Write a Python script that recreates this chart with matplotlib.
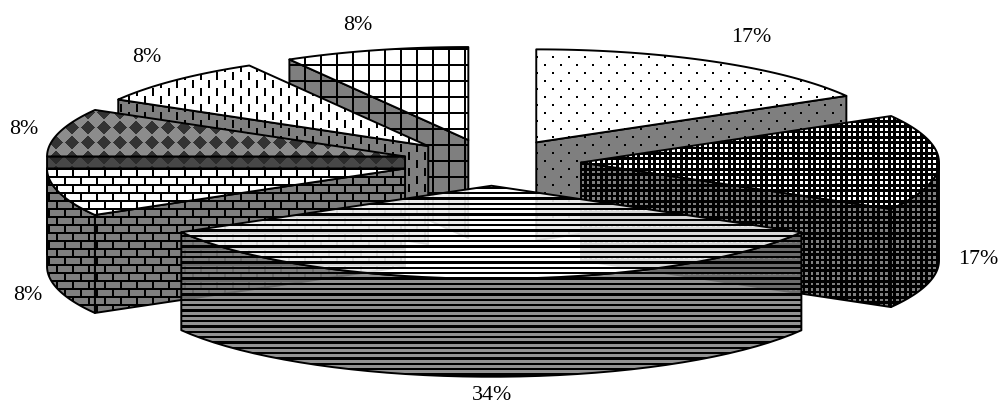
import numpy as np
import matplotlib
matplotlib.use('Agg')
import matplotlib.pyplot as plt
from matplotlib.patches import Polygon

# Exploded 3D pie with bitmap-like pattern fills

# Data (clockwise from 12 o'clock)
shares = [16.67, 16.67, 33.33, 8.33, 8.33, 8.33, 8.33]
labels = ['17%', '17%', '34%', '8%', '8%', '8%', '8%']
fills = ['dots', 'dense', 'lines', 'bricks', 'diamonds', 'dashes', 'grid']

# Layout (pixels)
W, H = 1000, 405
CX, CY = 491.5, 162.5
RX, RY = 358.0, 93.0
DEPTH = 98.0
EXPLODE = 0.25
label_xy = [(751, 38), (978, 260), (492, 396), (28, 296), (24, 130), (147, 58), (358, 26)]
draw_order = [0, 1, 6, 5, 4, 3, 2]

WHITE = (1, 1, 1)
GRAY = (0.5, 0.5, 0.5)
BLACK = (0, 0, 0)

# top colours and wall colours: (background, pattern)
top_cols = {'diamonds': ((0.55, 0.55, 0.55), (0.2, 0.2, 0.2))}
wall_cols = {'diamonds': ((0.28, 0.28, 0.28), (0.17, 0.17, 0.17))}

X, Y = np.meshgrid(np.arange(W) + 0.5, np.arange(H) + 0.5)


def pattern_mask(kind):
    """True where the pattern ink goes"""
    if kind == 'dots':
        row = np.floor(Y / 8) % 2
        return ((X + row * 8) % 16 < 2) & (Y % 8 < 2)
    if kind == 'dense':
        p = 16 / 3
        return ~((X % p < 2.6) & (Y % p < 2.6))
    if kind == 'lines':
        return Y % (16 / 3) < 2.3
    if kind == 'bricks':
        row = np.floor(Y / 8) % 2
        return (Y % 8 < 1.6) | ((X + row * 8) % 16 < 1.6)
    if kind == 'diamonds':
        dx = np.abs((X % 16) - 8)
        dy = np.abs((Y % 15) - 7.5)
        return dx + dy < 7.5
    if kind == 'dashes':
        col = np.floor(X / 8) % 2
        return (X % 8 < 2) & ((Y + col * 8) % 16 < 8)
    if kind == 'grid':
        return (X % 16 < 1.6) | (Y % 16 < 1.6)
    raise ValueError(kind)


def pattern_image(kind, bg, fg, gap_alpha=1.0):
    mask = pattern_mask(kind)
    img = np.zeros((H, W, 4))
    for i in range(3):
        img[..., i] = np.where(mask, fg[i], bg[i])
    img[..., 3] = np.where(mask, 1.0, gap_alpha)
    return img


def rim(ax0, ay0, a):
    a = np.radians(a)
    return ax0 + RX * np.sin(a), ay0 - RY * np.cos(a)


def fill_face(ax, pts, img):
    poly = Polygon(pts, closed=True, facecolor='none', edgecolor='black',
                   linewidth=1.4, joinstyle='round', zorder=fig_z[0] + 1)
    im = ax.imshow(img, extent=(0, W, H, 0), interpolation='nearest',
                   aspect='auto', zorder=fig_z[0])
    ax.add_patch(poly)
    im.set_clip_path(poly)
    fig_z[0] += 2


def radial_wall(ax0, ay0, a):
    x, y = rim(ax0, ay0, a)
    return [(ax0, ay0), (x, y), (x, y + DEPTH), (ax0, ay0 + DEPTH)]


def arc_wall(ax0, ay0, a0, a1):
    angs = np.linspace(a0, a1, 40)
    xs, ys = rim(ax0, ay0, angs)
    top = list(zip(xs, ys))
    bottom = list(zip(xs[::-1], ys[::-1] + DEPTH))
    return top + bottom


fig = plt.figure(figsize=(W / 100, H / 100), dpi=100)
ax = fig.add_axes([0, 0, 1, 1])
ax.set_xlim(0, W)
ax.set_ylim(H, 0)
ax.axis('off')
fig_z = [1]

fracs = np.array(shares) / sum(shares)
ends = np.cumsum(fracs) * 360
starts = ends - fracs * 360

for i in draw_order:
    a0, a1 = starts[i], ends[i]
    mid = np.radians((a0 + a1) / 2)
    ax0 = CX + EXPLODE * RX * np.sin(mid)
    ay0 = CY - EXPLODE * RY * np.cos(mid)
    kind = fills[i]

    # the big slice lets some of what is behind it shine through
    gap = 0.85 if kind == 'lines' else 1.0
    t_bg, t_fg = top_cols.get(kind, (WHITE, BLACK))
    w_bg, w_fg = wall_cols.get(kind, (GRAY, BLACK))
    top_img = pattern_image(kind, t_bg, t_fg, gap)
    wall_img = pattern_image(kind, w_bg, w_fg, 0.85 if gap < 1 else 1.0)

    # walls facing the viewer
    if a1 <= 180:
        fill_face(ax, radial_wall(ax0, ay0, a1), wall_img)
    if a0 >= 180:
        fill_face(ax, radial_wall(ax0, ay0, a0), wall_img)
    lo, hi = max(a0, 90), min(a1, 270)
    if hi > lo:
        fill_face(ax, arc_wall(ax0, ay0, lo, hi), wall_img)

    # top face
    angs = np.linspace(a0, a1, 60)
    xs, ys = rim(ax0, ay0, angs)
    fill_face(ax, [(ax0, ay0)] + list(zip(xs, ys)), top_img)

for lab, (x, y) in zip(labels, label_xy):
    ax.text(x, y, lab, ha='center', va='center', fontsize=15.8,
            family='Liberation Serif', color='black', zorder=1000)

fig.savefig('out.png', dpi=100)
